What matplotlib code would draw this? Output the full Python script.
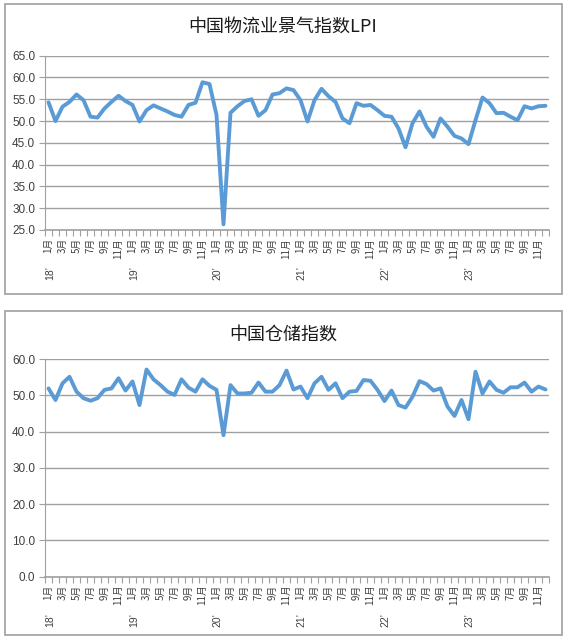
import numpy as np
import matplotlib
matplotlib.use("Agg")
import matplotlib.pyplot as plt
import matplotlib.transforms as mtransforms
from matplotlib.patches import Rectangle

plt.rcParams['font.family'] = ['Noto Sans CJK SC', 'DejaVu Sans']

# monthly data, Jan 2018 .. Dec 2023
lpi = [54.3, 50.0, 53.3, 54.4, 56.1, 54.8, 51.0, 50.8, 52.9, 54.4, 55.8, 54.6,
       53.7, 49.9, 52.5, 53.6, 52.9, 52.2, 51.4, 51.0, 53.7, 54.2, 58.9, 58.5,
       51.4, 26.3, 51.9, 53.4, 54.6, 55.0, 51.2, 52.5, 56.1, 56.4, 57.5, 57.1,
       54.8, 49.9, 54.8, 57.4, 55.7, 54.4, 50.6, 49.5, 54.1, 53.5, 53.7, 52.5,
       51.2, 51.0, 48.3, 44.0, 49.5, 52.2, 48.7, 46.4, 50.6, 48.7, 46.6, 46.0,
       44.7, 50.2, 55.4, 54.1, 51.8, 51.9, 51.0, 50.2, 53.4, 52.9, 53.4, 53.5]
storage = [51.9, 48.7, 53.3, 55.1, 51.0, 49.2, 48.5, 49.2, 51.5, 51.9, 54.7, 51.3,
           53.8, 47.3, 57.1, 54.4, 52.8, 51.0, 50.1, 54.4, 52.1, 51.0, 54.4, 52.6,
           51.5, 39.0, 52.8, 50.5, 50.5, 50.7, 53.5, 51.0, 51.0, 52.8, 56.8, 51.6,
           52.4, 49.2, 53.3, 55.1, 51.5, 53.3, 49.2, 51.0, 51.2, 54.2, 54.0, 51.5,
           48.4, 51.3, 47.3, 46.6, 49.6, 53.9, 53.1, 51.3, 51.9, 46.9, 44.3, 48.7,
           43.4, 56.5, 50.5, 53.8, 51.5, 50.7, 52.2, 52.2, 53.5, 51.0, 52.4, 51.6]
years = ["18’", "19’", "20’", "21’", "22’", "23’"]
month_labels = ["1月", "3月", "5月", "7月", "9月", "11月"]
titles = ["中国物流业景气指数LPI", "中国仓储指数"]

W, H = 569, 637
fig = plt.figure(figsize=(W / 100, H / 100), dpi=100)

def fx(px):
    return px / W

def fy(py):
    return 1 - py / H

# panel frames
for top, bot in [(4, 294), (311, 635)]:
    fig.patches.append(Rectangle((fx(5), fy(bot)), fx(557), (bot - top) / H,
                                 transform=fig.transFigure, fill=False,
                                 edgecolor='#a6a6a6', linewidth=1.3))

fig.text(fx(283), fy(27), titles[0], ha='center', va='center', fontsize=13, color='#1a1a1a')
fig.text(fx(283), fy(335), titles[1], ha='center', va='center', fontsize=13, color='#1a1a1a')

line_color = '#5b9bd5'
grid_color = '#a0a0a0'
n = len(lpi)
x = np.arange(n)


def setup(ax, data, yticks, top_px, bot_px):
    ax.plot(x, data, color=line_color, linewidth=2.8, solid_joinstyle='round',
            solid_capstyle='round', zorder=3)
    ax.set_xlim(-0.5, n - 0.5)
    ax.set_ylim(yticks[0], yticks[-1])
    ax.set_yticks(yticks)
    ax.set_yticklabels([f"{v:.1f}" for v in yticks], fontsize=8.5, color='#404040',
                       family=['Liberation Sans', 'DejaVu Sans'])
    ax.yaxis.grid(True, color=grid_color, linewidth=1.0)
    ax.set_axisbelow(True)
    for s in ['top', 'right']:
        ax.spines[s].set_visible(False)
    ax.spines['left'].set_color(grid_color)
    ax.spines['bottom'].set_color(grid_color)
    ax.spines['bottom'].set_linewidth(1.2)
    ax.tick_params(axis='y', length=4, color=grid_color, pad=3)
    # category boundary ticks
    ax.set_xticks(np.arange(-0.5, n, 1.0))
    ax.set_xticklabels([])
    ax.tick_params(axis='x', length=4, color=grid_color)
    trans = mtransforms.blended_transform_factory(ax.transData, fig.transFigure)
    for i in range(0, n, 2):
        ax.text(i, fy(bot_px + 8), month_labels[(i % 12) // 2], rotation=90,
                ha='center', va='top', fontsize=7, color='#404040', transform=trans)
    for k, yl in enumerate(years):
        ax.text(k * 12 + 0.2, fy(bot_px + 36), yl, rotation=90, ha='center', va='top',
                fontsize=7.5, color='#404040', transform=trans,
                family=['Liberation Sans', 'DejaVu Sans'])


ax1 = fig.add_axes([fx(45), fy(230), fx(504), (230 - 55.7) / H])
setup(ax1, lpi, [25.0, 30.0, 35.0, 40.0, 45.0, 50.0, 55.0, 60.0, 65.0], 55.7, 230)

ax2 = fig.add_axes([fx(45), fy(576.7), fx(504), (576.7 - 359) / H])
setup(ax2, storage, [0.0, 10.0, 20.0, 30.0, 40.0, 50.0, 60.0], 359, 576.7)

fig.savefig("out.png", dpi=100)
